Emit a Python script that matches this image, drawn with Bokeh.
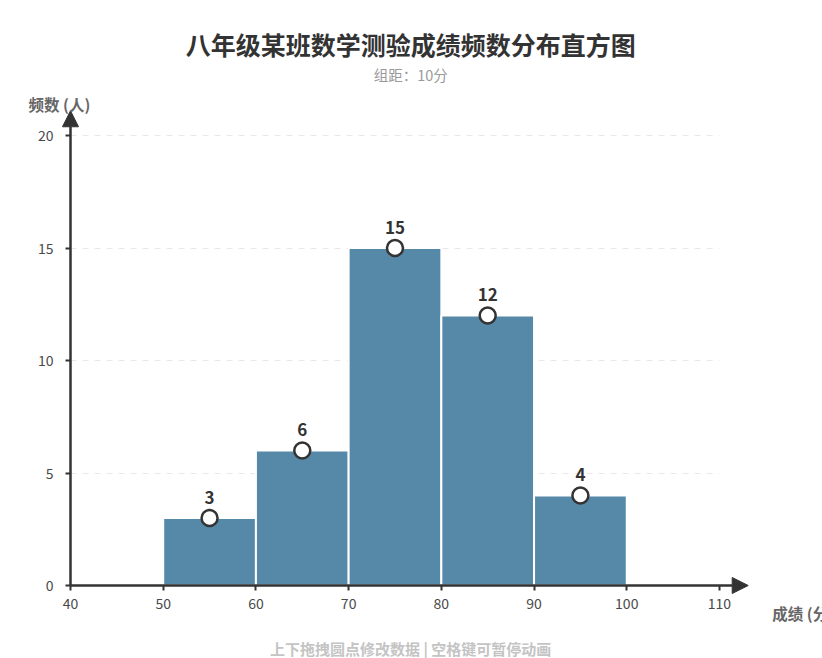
from bokeh.plotting import figure
from bokeh.models import ColumnDataSource, Label, Arrow, NormalHead, FixedTicker, Range1d
from bokeh.core.properties import value
from bokeh.embed import file_html
from bokeh.resources import INLINE

# ---- data ----
bin_left = [50, 60, 70, 80, 90]
bin_right = [60, 70, 80, 90, 100]
counts = [3, 6, 15, 12, 4]
x_ticks = [40, 50, 60, 70, 80, 90, 100, 110]
y_ticks = [0, 5, 10, 15, 20]
title_text = "八年级某班数学测验成绩频数分布直方图"
subtitle_text = "组距：10分"
x_label = "成绩 (分)"
y_label = "频数 (人)"
footer_text = "上下拖拽圆点修改数据 | 空格键可暂停动画"

FONT = "Noto Sans CJK SC"
DARK = "#333333"

centers = [(a + b) / 2 for a, b in zip(bin_left, bin_right)]
src = ColumnDataSource(dict(left=bin_left, right=bin_right, top=counts,
                            xc=centers, lbl=[str(c) for c in counts]))

W, H = 822, 658
PXX = 9.271   # px per score unit
PXY = 22.5    # px per count unit
X0, Y0 = 70, 585  # pixel position of (40, 0)
p = figure(width=W, height=H, output_backend="svg", toolbar_location=None,
           x_range=Range1d(40 - X0 / PXX, 40 + (W - X0) / PXX),
           y_range=Range1d(-(H - Y0) / PXY, Y0 / PXY),
           min_border_left=0, min_border_right=0, min_border_top=0, min_border_bottom=0)
p.outline_line_color = None
p.background_fill_color = "white"
p.border_fill_color = "white"

# grid
p.xgrid.visible = False
p.ygrid.ticker = FixedTicker(ticks=[5, 10, 15, 20])
p.ygrid.grid_line_color = "#e8e8e8"
p.ygrid.grid_line_dash = "6 6"
p.ygrid.grid_line_width = 1
p.ygrid.cross_bounds = (40, 110)

# axes
for ax in (p.xaxis[0], p.yaxis[0]):
    ax.axis_line_color = None
    ax.major_tick_line_color = DARK
    ax.major_tick_line_width = 2
    ax.major_tick_in = 0
    ax.major_tick_out = 5
    ax.minor_tick_line_color = None
    ax.major_label_text_font = FONT
    ax.major_label_text_font_size = "14px"
    ax.major_label_text_color = "#4a4a4a"
p.xaxis.ticker = FixedTicker(ticks=x_ticks)
p.yaxis.ticker = FixedTicker(ticks=y_ticks)
p.xaxis.bounds = (40, 110)
p.yaxis.bounds = (0, 20)
p.xaxis.fixed_location = 0
p.yaxis.fixed_location = 40
p.xaxis.major_label_standoff = 7
p.yaxis.major_label_standoff = 12

# bars
p.quad(left="left", right="right", bottom=0, top="top", source=src,
       fill_color="#5689a8", line_color="white", line_width=2)

# axis arrows
p.add_layout(Arrow(x_start=40, y_start=0, x_end=113.1, y_end=0,
                   line_color=DARK, line_width=2.5,
                   end=NormalHead(size=16, fill_color=DARK, line_color=DARK)))
p.add_layout(Arrow(x_start=40, y_start=0, x_end=40, y_end=21.1,
                   line_color=DARK, line_width=2.5,
                   end=NormalHead(size=16, fill_color=DARK, line_color=DARK)))

# handles + value labels
p.scatter(x="xc", y="top", source=src, size=16, fill_color="white",
          line_color=DARK, line_width=2.5)
p.text(x="xc", y="top", text="lbl", source=src, y_offset=-21,
       text_align="center", text_baseline="middle",
       text_font=value(FONT), text_font_size="17px", text_font_style="bold",
       text_color=DARK)

# texts
p.add_layout(Label(x=76.7, y=24.07, text=title_text, text_align="center",
                   text_baseline="middle", text_font=FONT, text_font_size="25px",
                   text_font_style="bold", text_color=DARK))
p.add_layout(Label(x=76.7, y=22.71, text=subtitle_text, text_align="center",
                   text_baseline="middle", text_font=FONT, text_font_size="14.5px",
                   text_color="#999999"))
p.add_layout(Label(x=35.47, y=21.38, text=y_label, text_align="left",
                   text_baseline="middle", text_font=FONT, text_font_size="15.5px",
                   text_font_style="bold", text_color="#666666"))
p.add_layout(Label(x=115.7, y=-1.2, text=x_label, text_align="left",
                   text_baseline="middle", text_font=FONT, text_font_size="15.5px",
                   text_font_style="bold", text_color="#666666"))
p.add_layout(Label(x=76.7, y=-2.78, text=footer_text, text_align="center",
                   text_baseline="middle", text_font=FONT, text_font_size="15px",
                   text_font_style="bold", text_color="#c4c4c4"))

open("out.html", "w").write(file_html(p, INLINE))
